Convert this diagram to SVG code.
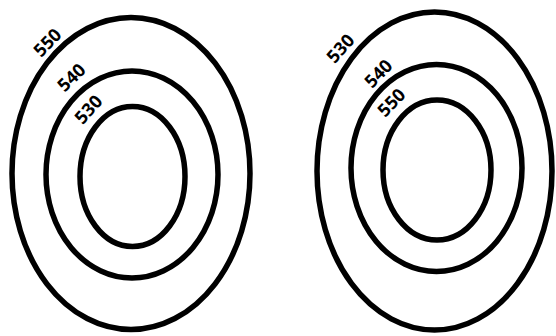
<svg xmlns="http://www.w3.org/2000/svg" width="556" height="336" viewBox="0 0 556 336">
<style>
.c{fill:none;stroke:#000;stroke-width:5.5}
.t{font-family:"Open Sans","Liberation Sans",sans-serif;font-weight:bold;font-size:18px;fill:#000;text-anchor:middle;dominant-baseline:central}
</style>
<rect width="556" height="336" fill="#fff"/>
<g id="left">
<ellipse class="c" cx="131" cy="173.5" rx="119" ry="156"/>
<ellipse class="c" cx="132" cy="174.5" rx="86" ry="103.5"/>
<ellipse class="c" cx="132.5" cy="176.5" rx="52.5" ry="70"/>
<text class="t" transform="translate(47,42) rotate(-46)">550</text>
<text class="t" transform="translate(71,77) rotate(-44)">540</text>
<text class="t" transform="translate(88,109) rotate(-48)">530</text>
</g>
<g id="right">
<ellipse class="c" cx="434.5" cy="171" rx="117.5" ry="159"/>
<ellipse class="c" cx="436.5" cy="168" rx="85.5" ry="103.5"/>
<ellipse class="c" cx="437" cy="170" rx="54" ry="70"/>
<text class="t" transform="translate(340,48) rotate(-48)">530</text>
<text class="t" transform="translate(378,73) rotate(-46)">540</text>
<text class="t" transform="translate(391,102) rotate(-46)">550</text>
</g>
</svg>
